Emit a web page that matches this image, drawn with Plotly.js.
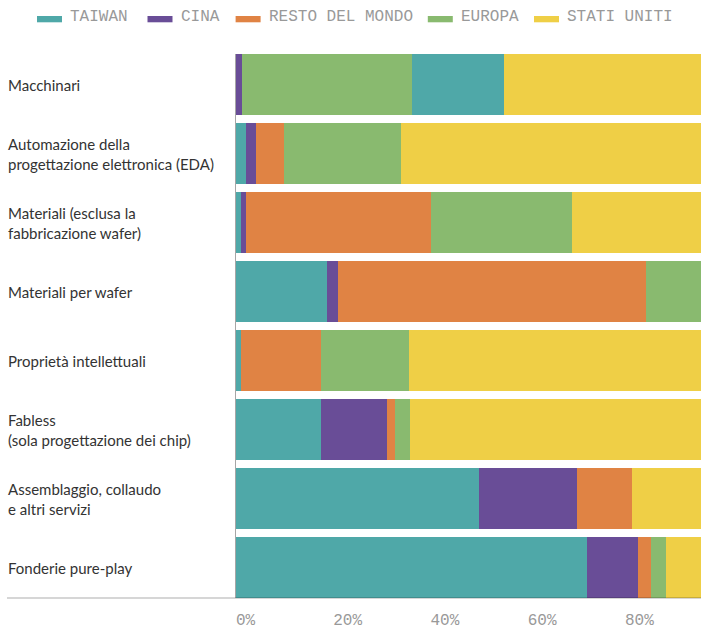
<!DOCTYPE html>
<html>
<head>
<meta charset="utf-8">
<script src="https://cdn.plot.ly/plotly-3.0.1.min.js"></script>
<style>
html,body{margin:0;padding:0;background:#fff;}
#chart{width:701px;height:629px;}
</style>
</head>
<body>
<div id="chart"></div>
<script>
// ---- data ----
const categories = ['Macchinari', 'Automazione della progettazione elettronica (EDA)', 'Materiali (esclusa la fabbricazione wafer)', 'Materiali per wafer', 'Proprietà intellettuali', 'Fabless (sola progettazione dei chip)', 'Assemblaggio, collaudo e altri servizi', 'Fonderie pure-play'];
const categoryLabels = ['Macchinari', 'Automazione della<br>progettazione elettronica (EDA)', 'Materiali (esclusa la<br>fabbricazione wafer)', 'Materiali per wafer', 'Proprietà intellettuali', 'Fabless<br>(sola progettazione dei chip)', 'Assemblaggio, collaudo<br>e altri servizi', 'Fonderie pure-play'];
const seriesNames = ['TAIWAN', 'CINA', 'RESTO DEL MONDO', 'EUROPA', 'STATI UNITI'];
const taiwan = [18.9, 2.1, 1.0, 18.7, 1.0, 17.5, 50.0, 72.2];
const cina   = [1.2, 2.1, 1.0, 2.3, 0, 13.6, 20.1, 10.5];
const resto  = [0, 5.6, 38.2, 63.3, 16.5, 1.6, 11.3, 2.7];
const europa = [35.0, 24.2, 28.8, 13.2, 18.1, 3.1, 0, 3.1];
const usa    = [44.9, 66.0, 31.0, 2.5, 64.4, 64.2, 18.6, 11.5];
// categories where Taiwan is stacked after Europa in the reference
const taiwanAfterEuropa = ['Macchinari'];
const tickValues = [0, 20, 40, 60, 80];
const tickLabels = ['0%', '20%', '40%', '60%', '80%'];

// ---- styles ----
const colors = ['#4fa8a8', '#694d97', '#e08344', '#89ba6f', '#efcf46'];
const monoFont = 'Liberation Mono, DejaVu Sans Mono, monospace';
const sansFont = 'Lato, Noto Sans, sans-serif';

const late = categories.map(c => taiwanAfterEuropa.includes(c));
const taiwanEarly = taiwan.map((v, i) => late[i] ? 0 : v);
const taiwanLate = taiwan.map((v, i) => late[i] ? v : 0);

function bar(vals, name, color) {
  return {
    type: 'bar', orientation: 'h', x: vals, y: categories, name: name,
    marker: {color: color, line: {width: 0}}, showlegend: false,
    hoverinfo: 'x+name'
  };
}
const data = [
  bar(taiwanEarly, seriesNames[0], colors[0]),
  bar(cina, seriesNames[1], colors[1]),
  bar(resto, seriesNames[2], colors[2]),
  bar(europa, seriesNames[3], colors[3]),
  bar(taiwanLate, seriesNames[0], colors[0]),
  bar(usa, seriesNames[4], colors[4])
];

const W = 701, ML = 236, PW = W - ML;
const labelX = (6 - ML) / PW;
const lineX = (7 - ML) / PW;
const gap = 8 / 69;
const half = (1 - gap) / 2;

const annotations = categories.map((c, i) => ({
  xref: 'paper', yref: 'y', x: labelX, y: c, xanchor: 'left', yanchor: 'middle',
  text: categoryLabels[i], showarrow: false, align: 'left',
  font: {family: sansFont, size: 15, color: '#333'}
}));
const shapes = [{
  type: 'line', xref: 'paper', yref: 'paper', x0: lineX, x1: 1, y0: 0, y1: 0,
  line: {color: 'rgba(0,0,0,0.32)', width: 1}
}];
// custom legend
const legendLeft = [37, 147.5, 235.6, 427.8, 534];
seriesNames.forEach((n, i) => {
  const x0 = (legendLeft[i] - ML) / PW;
  const x1 = (legendLeft[i] + 25 - ML) / PW;
  shapes.push({type: 'rect', xref: 'paper', yref: 'paper', x0: x0, x1: x1,
    y0: 1 + (54 - 22.3) / 544, y1: 1 + (54 - 16) / 544,
    fillcolor: colors[i], line: {width: 0}});
  annotations.push({xref: 'paper', yref: 'paper',
    x: (legendLeft[i] + 31 - ML) / PW, y: 1 + (54 - 17.5) / 544,
    xanchor: 'left', yanchor: 'middle', text: n, showarrow: false,
    font: {family: monoFont, size: 16, color: '#999'}});
});

const layout = {
  width: 701, height: 629,
  margin: {l: ML, r: 0, t: 54, b: 31, pad: 0},
  barmode: 'stack', bargap: gap,
  showlegend: false,
  paper_bgcolor: '#fff', plot_bgcolor: '#fff',
  xaxis: {
    range: [0, PW / 4.8625], tickmode: 'array', tickvals: tickValues, ticktext: tickLabels,
    showgrid: false, zeroline: false, showline: false, ticks: '',
    ticklabelposition: 'outside right', ticklabelstandoff: 10,
    tickfont: {family: monoFont, size: 16, color: '#999'}, fixedrange: true
  },
  yaxis: {
    type: 'category', categoryorder: 'array', categoryarray: categories,
    range: [categories.length - 1 + half, -half],
    showticklabels: false, showgrid: false, zeroline: false,
    showline: true, linecolor: 'rgba(0,0,0,0.35)', linewidth: 1, ticks: '', fixedrange: true
  },
  annotations: annotations, shapes: shapes
};
Plotly.newPlot('chart', data, layout, {displayModeBar: false, staticPlot: true});
</script>
</body>
</html>
